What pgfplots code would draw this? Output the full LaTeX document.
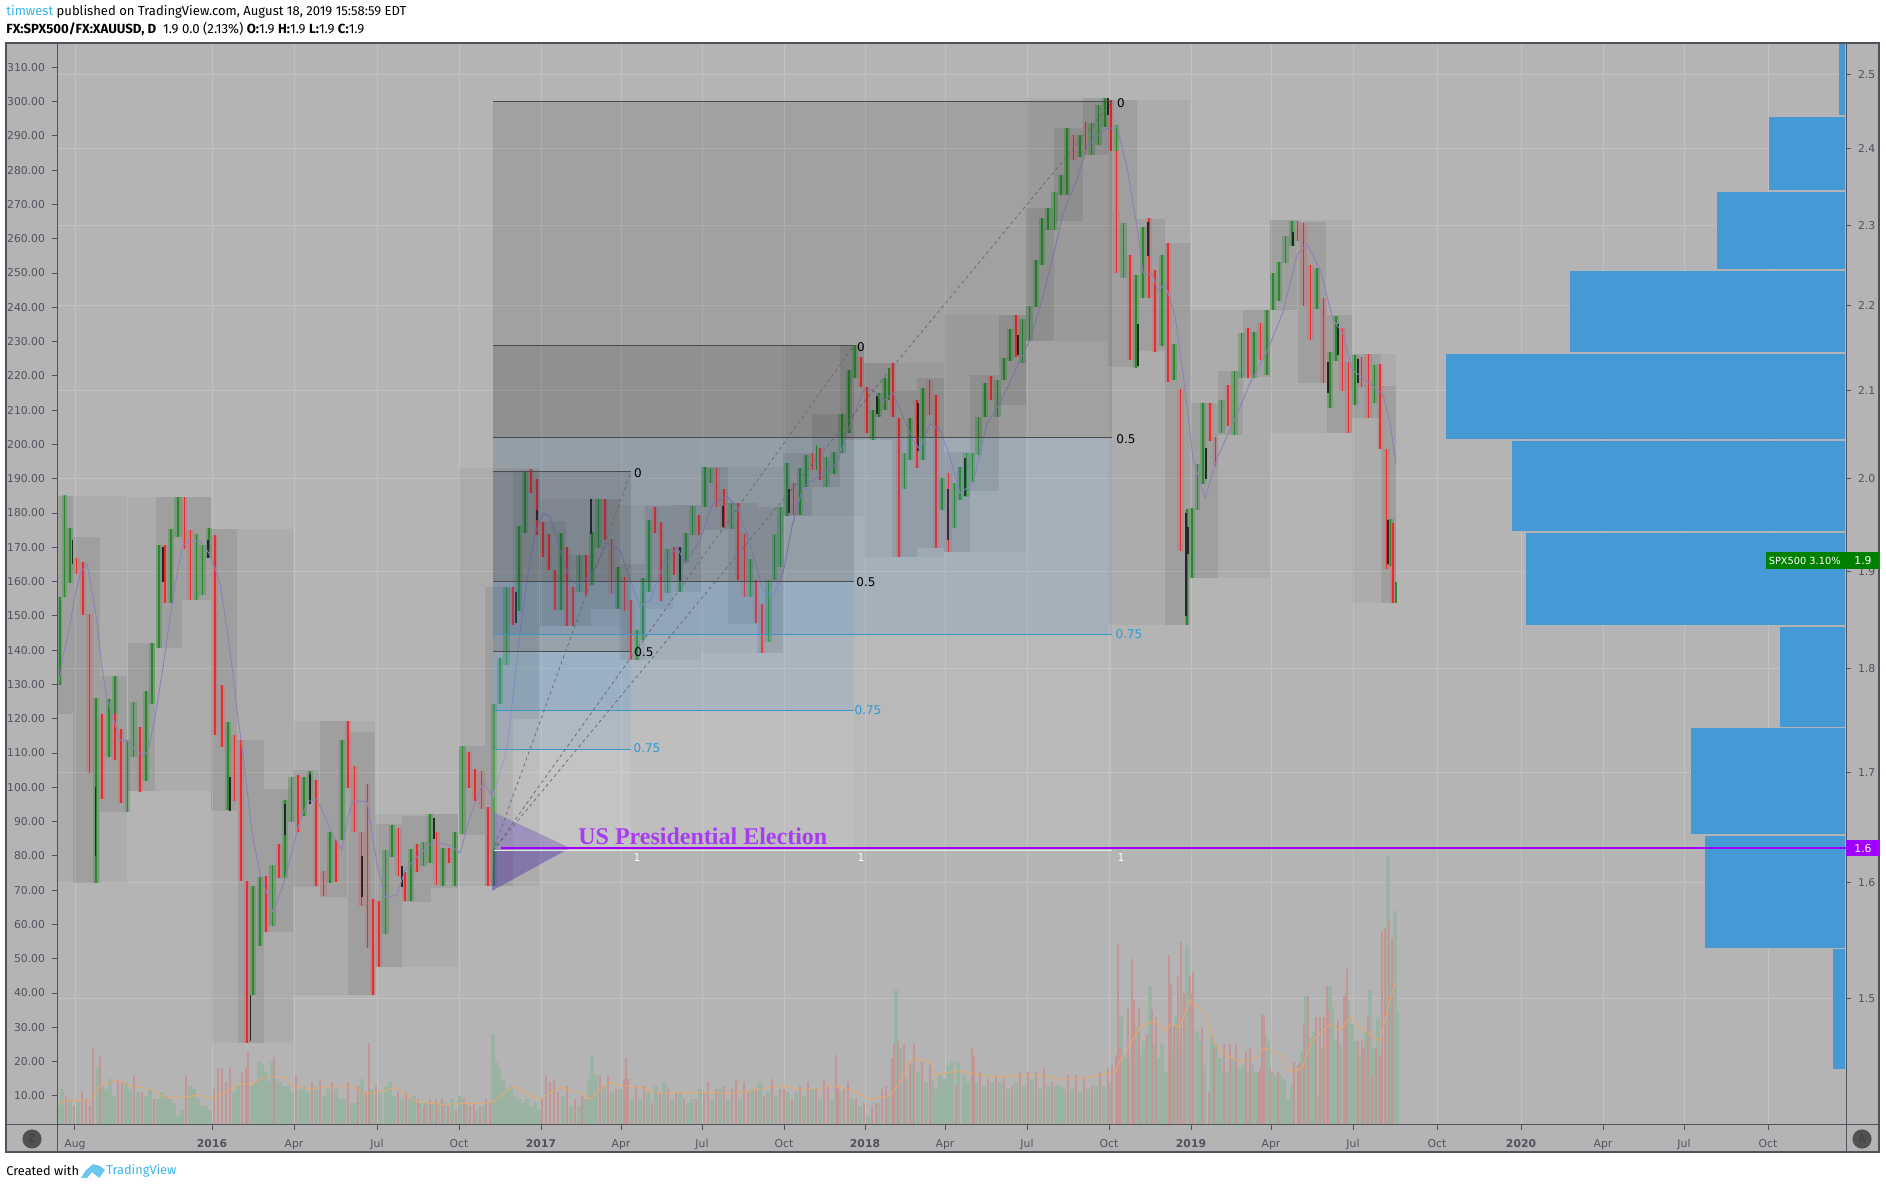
\documentclass[border=0pt]{standalone}
\usepackage{pgfplots}
\pgfplotsset{compat=1.18}
\usepackage{fontspec}
\setmainfont{DejaVu Sans}
\newfontfamily\hdr{Fira Sans}
\newfontfamily\ser{Liberation Serif}
\newcommand\ticks{\fontsize{5.4}{6.5}\selectfont}
\newcommand\lev{\fontsize{6}{7}\selectfont}
\newcommand\tagf{\fontsize{4.9}{6}\selectfont}
\definecolor{bgc}{HTML}{B4B4B4}
\definecolor{gridc}{HTML}{C1C1C1}
\definecolor{framec}{HTML}{50535E}
\definecolor{tickc}{HTML}{50535E}
\definecolor{tg}{HTML}{1E8E28}
\definecolor{tr}{HTML}{E04040}
\definecolor{sg}{HTML}{2A8A2A}
\definecolor{sr}{HTML}{EE2A2A}
\definecolor{fibblue}{HTML}{3C96E6}
\definecolor{fibtxt}{HTML}{2A9AD8}
\definecolor{prof}{HTML}{4299D7}
\definecolor{mac}{HTML}{9080B8}
\definecolor{volma}{HTML}{E6A86F}
\definecolor{volr}{HTML}{C49595}
\definecolor{volg}{HTML}{9BB3A3}
\definecolor{pur}{HTML}{A000FF}
\definecolor{tv}{HTML}{37B4EA}
\definecolor{elect}{HTML}{A83CF0}
\definecolor{tri}{HTML}{5A3CA8}
\newcommand{\Qb}[4]{\addplot[fill=black,fill opacity=.045,draw=none] coordinates {(#1,#3)(#2,#3)(#2,#4)(#1,#4)};}
\newcommand{\Mb}[4]{\addplot[fill=black,fill opacity=.07,draw=none] coordinates {(#1,#3)(#2,#3)(#2,#4)(#1,#4)};}
\newcommand{\Wg}[4]{\addplot[fill=tg,fill opacity=.3,draw=none] coordinates {(#1,#3)(#2,#3)(#2,#4)(#1,#4)};%
 \pgfmathsetmacro\cc{(#1+#2)/2}\addplot[sg,line width=.6pt] coordinates {(\cc,#3)(\cc,#4)};}
\newcommand{\Wr}[4]{\addplot[fill=tr,fill opacity=.2,draw=none] coordinates {(#1,#3)(#2,#3)(#2,#4)(#1,#4)};%
 \pgfmathsetmacro\cc{(#1+#2)/2}\addplot[sr,line width=.6pt] coordinates {(\cc,#3)(\cc,#4)};}
\newcommand{\Kb}[3]{\addplot[black!85,line width=.6pt] coordinates {(#1,#2)(#1,#3)};}
\newcommand{\Fb}[6]{\addplot[fill=#5,fill opacity=#6,draw=none] coordinates {(#1,#3)(#2,#3)(#2,#4)(#1,#4)};}
\newcommand{\Pf}[3]{\addplot[fill=prof,fill opacity=.97,draw=none] coordinates {(#1,#2)(1845,#2)(1845,#3)(#1,#3)};}
\begin{document}
\begin{tikzpicture}
\path[use as bounding box] (-28.5pt,-32pt) rectangle (914.5pt,562.5pt);
\fill[white] (-28.5pt,-32pt) rectangle (914.5pt,562.5pt);
\fill[bgc] (-25.5pt,-13.5pt) rectangle (911pt,541pt);
% right-hand logarithmic scale with the grid
\begin{axis}[at={(0,0)},anchor=south west,scale only axis,width=894.5pt,height=541pt,
 xmin=57,xmax=1846,ymode=log,ymin=1.399,ymax=2.544,
 xtick={75,212,294,377,459,541,621,702,784,865,945,1027,1109,1191,1271,1353,1437,1521,1603,1684,1768},
 xticklabels={},major x tick style={draw=none},
 ytick={1.5,1.6,1.7,1.8,1.9,2.0,2.1,2.2,2.3,2.4,2.5},
 yticklabels={1.5,1.6,1.7,1.8,1.9,2.0,2.1,2.2,2.3,2.4,2.5},
 yminorticks=false,xminorticks=false,
 ytick pos=right,tick align=outside,major tick length=2.5pt,
 tick style={tickc,line width=.5pt},
 tick label style={font=\ticks,color=tickc},
 xmajorgrids,ymajorgrids,grid style={gridc,line width=.5pt},
 axis line style={draw=none}]
\addplot[draw=none] coordinates {(60,2)};
\end{axis}
% left-hand scale with everything in it
\begin{axis}[at={(0,0)},anchor=south west,scale only axis,width=894.5pt,height=541pt,
 xmin=57,xmax=1846,ymin=1.5,ymax=317.1,
 xtick={75,212,294,377,459,541,621,702,784,865,945,1027,1109,1191,1271,1353,1437,1521,1603,1684,1768},
 xticklabels={Aug,\textbf{2016},Apr,Jul,Oct,\textbf{2017},Apr,Jul,Oct,\textbf{2018},Apr,Jul,Oct,\textbf{2019},Apr,Jul,Oct,\textbf{2020},Apr,Jul,Oct},
 ytick={10,20,...,310},
 yticklabel style={/pgf/number format/.cd,fixed,fixed zerofill,precision=2,assume math mode=true,1000 sep={}},
 xtick pos=bottom,ytick pos=left,tick align=outside,major tick length=2.5pt,
 tick style={tickc,line width=.5pt},
 tick label style={font=\ticks,color=tickc},
 xticklabel style={yshift=-1.2pt},
 axis line style={draw=none}]
% quarterly and monthly ranges
\Qb{58}{127}{185}{72}\Mb{58}{73}{185}{121.3}\Mb{73}{100}{173}{72}\Mb{100}{127}{132.5}{92.7}
\Qb{128}{211}{184.7}{98.9}\Mb{128}{155}{142}{98.9}\Mb{156}{182}{184.7}{140.5}\Mb{182}{211}{184.7}{154.6}
\Qb{211}{293}{175.3}{25.5}\Mb{211}{237}{175.3}{93}\Mb{238}{264}{113.7}{25.5}\Mb{264}{293}{99.4}{57.9}
\Qb{293}{375}{119.3}{39.3}\Mb{293}{319}{105}{71}\Mb{320}{347}{119.3}{68.1}\Mb{348}{375}{116}{39.3}
\Qb{375}{458}{92.2}{47.5}\Mb{376}{402}{89.3}{47.5}\Mb{402}{431}{91.6}{66.4}\Mb{431}{458}{92.2}{70.7}
\Qb{459}{539}{193}{71.3}\Mb{459}{485}{112}{86}\Mb{485}{513}{158.4}{71.3}\Mb{513}{539}{192.6}{120}
\Qb{540}{620}{184}{147}\Mb{540}{566}{177.8}{147}\Mb{566}{591}{167.7}{147}\Mb{591}{620}{184}{151.9}
\Qb{620}{701}{182.3}{137.1}\Mb{620}{645}{165}{137.1}\Mb{645}{673}{182}{152}\Mb{673}{701}{182.3}{157}
\Qb{701}{783}{193.5}{139.3}\Mb{701}{728}{193.5}{175}\Mb{728}{757}{182.8}{147.6}\Mb{757}{783}{181.8}{139.3}
\Qb{783}{864}{229}{179.1}\Mb{783}{812}{197.4}{179.1}\Mb{812}{840}{208.9}{187.7}\Mb{840}{864}{229}{201.3}
\Qb{864}{944}{223.7}{167.3}\Mb{864}{892}{223.7}{201.3}\Mb{892}{917}{215.9}{167.3}\Mb{917}{944}{219.3}{169.7}
\Qb{944}{1026}{237.8}{168.7}\Mb{944}{970}{197.9}{168.7}\Mb{970}{999}{220.3}{186.5}\Mb{999}{1026}{237.8}{211.5}
\Qb{1026}{1108}{301}{230.3}\Mb{1026}{1054}{268.9}{230.3}\Mb{1054}{1083}{292.2}{265.3}\Mb{1083}{1108}{301}{284.4}
\Qb{1108}{1190}{300.6}{147.4}\Mb{1108}{1137}{300.6}{222.5}\Mb{1137}{1165}{265.7}{227.2}\Mb{1165}{1190}{258.9}{147.4}
\Qb{1190}{1270}{239.1}{161}\Mb{1191}{1218}{212}{161}\Mb{1218}{1243}{221.4}{202.7}\Mb{1243}{1270}{239.1}{219.6}
\Qb{1270}{1352}{265.5}{203.2}\Mb{1270}{1297}{265.5}{239.1}\Mb{1298}{1326}{264.9}{217.8}\Mb{1327}{1352}{237.8}{203.2}
\Qb{1352}{1396}{226.3}{153.9}\Mb{1352}{1381}{226.3}{207.6}\Mb{1381}{1396}{217}{153.9}
% weekly bodies with their daily strokes, 2015-2016
\Wg{58}{62}{155.6}{129.9}\Wg{62}{67}{185.2}{155.6}\Wg{67}{73}{175.7}{159.7}\Wr{73}{80}{166.8}{162.3}
\Wr{80}{86}{165.6}{150.3}\Wr{86}{93}{150.6}{104.2}\Wg{93}{99}{126}{72}\Wr{99}{105}{121.5}{96.6}
\Wg{106}{112}{125.7}{108.7}\Wg{112}{118}{132.5}{121.5}\Wr{112}{118}{121.5}{108}\Wr{118}{124}{117}{95.5}
\Wg{125}{130}{113.9}{92.7}\Wg{130}{137}{124.9}{108.7}\Wr{137}{143}{117.6}{98.6}\Wg{143}{149}{128.2}{101.7}
\Wg{149}{155}{142}{124.3}\Wg{156}{162}{170.7}{140.5}\Wr{162}{168}{170.7}{153.7}\Wg{168}{174}{175.3}{153.9}
\Wg{174}{182}{184.6}{172.9}\Wr{182}{187}{184.6}{169.5}\Wr{187}{194}{175.1}{154.7}\Wg{194}{199}{174}{154.7}
\Wg{199}{206}{170.7}{156.1}\Wg{206}{212}{175.7}{166.8}\Wr{212}{218}{173.5}{115.4}\Wr{219}{225}{129.9}{111.8}
\Wg{225}{231}{119}{93.4}\Wr{231}{238}{115.4}{95.9}\Wr{238}{244}{113.7}{72.6}\Wr{244}{250}{72.7}{25.5}
\Wg{250}{256}{71.3}{39.5}\Wg{257}{263}{73.7}{53.6}\Wr{263}{269}{74.1}{57.9}\Wg{269}{276}{77.2}{59.6}
\Wr{276}{282}{83.6}{73.5}\Wg{282}{288}{96.4}{73.5}\Wg{288}{295}{102.9}{89.9}\Wr{295}{301}{103.7}{86.9}
\Wg{301}{307}{103.1}{91.7}\Wg{307}{313}{104.8}{96.4}\Wr{313}{319}{102}{71.1}\Wr{320}{327}{75.5}{68.2}
\Wg{327}{333}{86.9}{72.1}\Wr{333}{339}{84.7}{72.4}\Wg{339}{345}{113.7}{84.7}\Wr{345}{351}{119.3}{99.8}
\Wr{351}{358}{106.1}{86.9}\Wr{358}{365}{86.9}{65.5}\Wr{365}{370}{100.9}{53.2}\Wr{370}{376}{67.4}{39.5}
\Wr{376}{382}{66.8}{47.5}\Wg{382}{389}{81.6}{57.3}\Wg{389}{395}{89.1}{79.7}\Wr{395}{402}{88}{74.1}
\Wr{402}{408}{75.2}{66.8}\Wg{408}{414}{81.9}{66.8}\Wr{414}{420}{83.6}{75.2}\Wg{420}{427}{84.1}{76.9}
\Wg{427}{433}{92.2}{78}\Wr{433}{440}{86.9}{71.6}\Wg{440}{446}{82.4}{71.3}\Wr{446}{452}{82.4}{78}
\Wg{452}{458}{86.9}{71.3}\Wg{459}{466}{112}{86.4}\Wr{466}{472}{110.4}{99.8}\Wr{472}{478}{105.3}{95.9}
\Wr{478}{485}{104.8}{93.6}\Wr{485}{491}{94.2}{71.3}\Wg{491}{497}{124.3}{71.3}\Wg{497}{503}{137.7}{124.3}
% 2017
\Wg{503}{510}{158.5}{135.7}\Wr{510}{516}{158.5}{147.3}\Wg{516}{522}{176.2}{151.5}\Wg{522}{528}{192}{174.3}
\Wr{528}{534}{192.7}{185.7}\Wr{534}{540}{190}{173.6}\Wr{540}{546}{177.5}{167.3}\Wr{546}{552}{174}{163.4}
\Wr{552}{558}{163.4}{151.7}\Wg{558}{564}{174.1}{151.7}\Wr{564}{570}{170.2}{147}\Wr{570}{576}{158.5}{147}
\Wg{576}{583}{167.7}{157}\Wr{583}{589}{167.7}{156}\Wg{589}{595}{174.6}{159}\Wg{595}{602}{184.1}{169.7}
\Wr{602}{608}{184.1}{172.1}\Wr{608}{615}{172.3}{156.4}\Wg{615}{621}{164.3}{151.9}\Wr{621}{628}{161.4}{151.5}
\Wr{628}{634}{154.6}{137.1}\Wg{634}{640}{145.9}{137.1}\Wg{640}{646}{161}{143}\Wg{646}{652}{178}{157}
\Wr{652}{658}{181.9}{174.1}\Wr{658}{664}{177.5}{154.3}\Wg{664}{671}{169.5}{156.6}\Wr{671}{677}{170.2}{161.9}
\Wg{677}{683}{170.2}{157}\Wg{683}{689}{174.1}{165.3}\Wg{689}{696}{182}{173.6}\Wr{696}{702}{179.4}{173.6}
\Wg{702}{708}{193.5}{181.9}\Wg{708}{713}{193}{188.7}\Wr{713}{720}{193}{181.9}\Wr{720}{728}{187}{175.5}
\Wg{728}{735}{182.8}{175.2}\Wr{735}{741}{182.8}{160.5}\Wr{741}{748}{174}{155.6}\Wg{748}{753}{166.5}{155.6}
\Wr{753}{759}{160.5}{147.8}\Wr{759}{765}{153.6}{139.1}\Wg{765}{772}{160.5}{142.5}\Wg{772}{777}{173.8}{160.5}
\Wg{777}{784}{181.9}{164.4}\Wg{784}{790}{194.5}{179.1}\Wr{790}{797}{188.7}{179.4}\Wg{797}{803}{193}{179.4}
\Wg{803}{809}{197}{187.7}\Wr{809}{816}{197.4}{192.5}\Wg{816}{817}{199.8}{192.5}\Wr{817}{823}{198.9}{189.6}
\Wg{823}{830}{196.4}{187.7}\Wg{830}{838}{197.9}{191.4}\Wg{838}{846}{209}{197.4}
\Wg{846}{852}{221.7}{203.3}\Wg{852}{858}{229}{219.3}\Wr{858}{864}{225.6}{216.9}
% 2018
\Wr{864}{870}{216.9}{203.3}\Wg{870}{876}{210}{201.3}
\Wg{876}{882}{215}{208}\Wg{882}{888}{219.3}{210}\Wg{888}{890}{222.2}{213}\Wr{890}{896}{223.7}{208}
\Wr{896}{902}{207.6}{167.3}\Wg{902}{907}{197.4}{187}\Wg{907}{913}{207.6}{195.5}\Wr{914}{920}{213}{193}
\Wg{920}{926}{216.4}{195.5}\Wr{926}{933}{218.8}{208.6}\Wr{933}{939}{214.4}{169.7}\Wg{939}{945}{190.1}{180.9}
\Wr{945}{952}{191.6}{168.7}\Wg{952}{957}{188.7}{175.5}\Wg{957}{963}{193.5}{183.8}\Wg{963}{970}{197.6}{184.8}
\Wg{970}{975}{197.6}{189}\Wg{975}{982}{207.9}{197}\Wg{982}{988}{218}{207.9}\Wr{988}{994}{220}{213}
\Wg{994}{1001}{218.8}{207.9}\Wg{1001}{1007}{225.1}{218.8}\Wg{1007}{1013}{233.6}{224.2}\Wr{1013}{1019}{237.8}{225.6}
\Wg{1019}{1026}{236.5}{223.9}\Wg{1026}{1033}{240.4}{230.3}\Wg{1033}{1039}{253.8}{240}
\Wg{1039}{1045}{266}{252.3}\Wg{1045}{1051}{268.9}{262.6}\Wg{1051}{1058}{273.7}{262.6}\Wg{1058}{1064}{278.6}{272.8}
\Wg{1064}{1070}{292.2}{272.8}\Wr{1070}{1077}{290.3}{283}\Wg{1077}{1083}{290.3}{283.9}\Wr{1083}{1088}{294.2}{284.7}
\Wg{1088}{1095}{293.7}{284.4}\Wg{1095}{1102}{299}{287.4}\Wg{1102}{1108}{301}{292.7}\Wr{1108}{1114}{300.5}{285.7}
\Wg{1114}{1119}{293.2}{285.7}\Wr{1114}{1119}{285.7}{267.9}\Wr{1113}{1120}{267.9}{250.1}
\Wg{1120}{1127}{264.5}{248.5}\Wr{1127}{1133}{255.3}{224.6}\Wg{1133}{1139}{249.4}{222.2}\Wg{1140}{1146}{263.5}{242.6}
\Wr{1146}{1152}{266}{242.6}\Wr{1152}{1158}{250.9}{227.1}\Wg{1159}{1165}{255.3}{228.7}\Wr{1165}{1171}{258.9}{218.3}
\Wg{1171}{1177}{229.2}{218.8}\Wr{1177}{1184}{216.2}{168.8}\Wg{1185}{1189}{181.3}{147.4}\Wg{1189}{1195}{181.6}{161}
% 2019
\Wg{1195}{1200}{194.3}{180.8}\Wg{1200}{1206}{212}{188.6}\Wr{1207}{1213}{212}{201.1}\Wr{1213}{1218}{202.1}{193.8}
\Wg{1218}{1225}{213.1}{203.2}\Wr{1225}{1231}{217.2}{205.3}\Wg{1231}{1238}{221.4}{202.7}\Wg{1238}{1245}{232.6}{219.3}
\Wr{1245}{1251}{233.9}{219.3}\Wg{1251}{1257}{232.8}{219.3}\Wr{1257}{1264}{235.5}{224.5}\Wg{1264}{1270}{239.1}{220.3}
\Wg{1270}{1276}{250}{239.1}\Wg{1276}{1282}{253.2}{241.7}\Wg{1282}{1289}{260.7}{253}\Wg{1289}{1295}{265.2}{257.9}
\Wr{1295}{1300}{265.2}{259.4}\Wr{1300}{1307}{264.6}{240.5}\Wr{1307}{1314}{252.3}{230.6}\Wg{1314}{1320}{251.6}{239.6}
\Wr{1320}{1327}{242.8}{217.8}\Wg{1327}{1333}{226.9}{210.5}\Wg{1333}{1339}{237.6}{224.2}\Wr{1339}{1346}{233.9}{215.7}
\Wr{1345}{1352}{224}{203.2}\Wg{1352}{1358}{226.1}{211.5}\Wr{1358}{1365}{225.6}{216.7}\Wr{1365}{1372}{226.3}{207.6}
\Wg{1372}{1377}{223.3}{212}\Wr{1377}{1383}{223.5}{198.8}\Wr{1383}{1390}{198.8}{163.8}\Wg{1387}{1394}{178.4}{164.6}
\Wr{1390}{1396}{177.1}{153.9}\Wg{1395}{1397}{160}{153.9}
% dark candles
\Kb{95.5}{100}{80}\Kb{250.5}{39.5}{26}\Kb{72.5}{172}{165}\Kb{163}{170}{160}\Kb{208}{172}{167}\Kb{230}{103}{93}
\Kb{285}{95}{86}\Kb{310}{104}{95}\Kb{362}{80}{68}\Kb{402}{77}{71}\Kb{434}{91}{85}\Kb{516}{157}{148}\Kb{537}{181}{178}
\Kb{591}{184}{174}\Kb{680}{170}{160}\Kb{723}{182}{176}\Kb{789}{187}{180}\Kb{877}{214}{209}\Kb{918}{212}{198}\Kb{948}{187}{172}
\Kb{965}{196}{185}\Kb{1018}{232}{226}\Kb{1108}{301}{296}\Kb{1138}{223}{235}\Kb{1148}{265}{255}\Kb{1186}{180}{150}\Kb{1188}{176}{168}
\Kb{1206}{190}{199}\Kb{1293}{262}{258}\Kb{1328}{224}{215}\Kb{1338}{235}{226}\Kb{1358}{225}{218}\Kb{1388}{178}{165}
% moving average
\addplot[mac,line width=.45pt] coordinates {(59,130.5)(63,138.3)(70,147.2)(75,156.1)(81,162.8)(87,165.1)(90,160.6)(97,148.3)(102,134.9)(107,126)(113,120.4)(120,113.7)(127,113.7)(133,111.5)(143,109.3)(148,110.4)(155,120.4)(163,134.9)(170,149.4)(178,164)(183,170.7)(190,171.8)(200,171.8)(210,167.9)(220,159.5)(227,146.1)(233,132.7)(238,120.4)(245,104.8)(252,86.9)(260,74.6)(267,69)(273,63.5)(283,71.3)(293,82.5)(300,90.3)(308,95.9)(317,96.4)(325,91.4)(333,85.8)(342,81.9)(348,91.4)(353,95.9)(367,95.9)(377,78)(385,67.9)(397,68.5)(405,75.8)(417,79.7)(433,84.1)(450,83)(460,80.8)(470,91.4)(483,101.4)(493,97)(507,111.5)(513,126.4)(520,145)(528,162.4)(535,174)(543,179.9)(550,179)(560,169.2)(570,160.5)(578,159)(593,162.4)(607,171.2)(620,169.2)(630,160.5)(640,152.7)(650,154.6)(663,164.4)(677,170.2)(685,165.3)(700,172.1)(713,182.8)(727,184.8)(737,181.9)(750,171.2)(763,157.5)(773,155.6)(783,162.4)(792,176)(803,187.7)(823,191.6)(837,194.5)(847,203.2)(853,208)(864,215.9)(873,216)(883,212.5)(893,215)(903,208.1)(913,201.3)(920,198.4)(930,206.2)(940,204.2)(950,196.4)(960,185.8)(973,188.7)(987,206.2)(1000,212)(1017,222.7)(1030,230.5)(1043,243.1)(1057,259.6)(1063,267.4)(1077,277.2)(1087,286.9)(1103,291.7)(1117,292.7)(1127,281)(1137,263.5)(1143,250)(1153,249.4)(1158,244.6)(1165,247)(1175,237.6)(1183,220.9)(1193,195.9)(1205,184.4)(1217,195.9)(1233,206.3)(1250,217.8)(1267,227.1)(1283,238.6)(1297,255.3)(1307,258.4)(1320,251.1)(1333,236.5)(1343,232.3)(1352,221.9)(1370,217.8)(1383,214.6)(1390,206.3)(1396,194.3)};
% election triangle
\addplot[fill=tri,fill opacity=.48,draw=none] coordinates {(492,69.8)(494,92.7)(570,82.3)};
% Fibonacci ranges
\Fb{493}{1112}{300}{202}{black}{.1}\Fb{493}{1112}{202}{144.5}{fibblue}{.12}\Fb{493}{1112}{144.5}{81.5}{white}{.08}
\Fb{493}{854}{229}{160}{black}{.1}\Fb{493}{854}{160}{122.5}{fibblue}{.12}\Fb{493}{854}{122.5}{81.5}{white}{.08}
\Fb{493}{631}{192}{139.5}{black}{.1}\Fb{493}{631}{139.5}{111}{fibblue}{.12}\Fb{493}{631}{111}{81.5}{white}{.08}
\addplot[black!70,line width=.5pt] coordinates {(493,300)(1112,300)};
\addplot[black!70,line width=.5pt] coordinates {(493,202)(1112,202)};
\addplot[black!70,line width=.5pt] coordinates {(493,229)(854,229)};
\addplot[black!70,line width=.5pt] coordinates {(493,160)(854,160)};
\addplot[black!70,line width=.5pt] coordinates {(493,192)(631,192)};
\addplot[black!70,line width=.5pt] coordinates {(493,139.5)(631,139.5)};
\addplot[fibtxt!80!gray,line width=.5pt] coordinates {(493,144.5)(1112,144.5)};
\addplot[fibtxt!80!gray,line width=.5pt] coordinates {(493,122.5)(854,122.5)};
\addplot[fibtxt!80!gray,line width=.5pt] coordinates {(493,111)(631,111)};
\addplot[white!80!gray,line width=.5pt] coordinates {(493,81.5)(1112,81.5)};
\addplot[black!60,line width=.35pt,dash pattern=on 1.6pt off 1.6pt] coordinates {(493,81.5)(631,192)};
\addplot[black!60,line width=.35pt,dash pattern=on 1.6pt off 1.6pt] coordinates {(493,81.5)(854,229)};
\addplot[black!60,line width=.35pt,dash pattern=on 1.6pt off 1.6pt] coordinates {(493,81.5)(1112,300)};
% volume
\addplot[ycomb,volg,line width=1.7pt] coordinates {(58,7)(62,12)(70,9)(78,8)(98,18)(102,13)(106,12)(110,15)(114,10)(126,14)(130,12)(138,11)(146,10)(150,12)(158,9)(162,11)(166,10)(170,9)(174,8)(178,4)(182,6)(190,13)(194,12)(198,9)(202,7)(206,7)(210,6)(234,11)(238,13)(252,13)(256,14)(259,20)(262,19)(266,17)(270,14)(272,20)(276,15)(280,14)(284,13)(288,13)(292,11)(300,12)(304,13)(308,11)(316,13)(324,10)(328,12)(336,12)(340,9)(344,9)(352,8)(356,8)(362,15)(372,12)(380,11)(386,13)(390,14)(394,10)(402,9)(410,9)(414,10)(420,8)(426,8)(432,8)(438,8)(444,8)(452,9)(460,10)(466,8)(476,6)(484,7)(493,28)(496,20)(499,18)(503,15)(507,12)(511,13)(515,10)(519,9)(523,8)(527,9)(531,7)(535,8)(539,6)(563,10)(571,7)(579,7)(585,9)(589,15)(592,22)(596,16)(604,13)(612,11)(620,12)(632,9)(640,9)(648,11)(656,13)(664,14)(672,9)(680,11)(688,8)(692,9)(700,12)(712,9)(720,12)(728,9)(740,9)(752,12)(760,14)(768,11)(776,10)(788,11)(796,11)(804,10)(812,12)(820,9)(832,9)(840,11)(852,9)(860,7)(868,4)(878,8)(888,10)(896,41)(900,24)(906,15)(912,19)(918,17)(926,14)(932,15)(936,12)(940,16)(944,15)(948,19)(952,20)(958,20)(964,16)(968,14)(976,14)(984,13)(992,14)(1000,14)(1008,12)(1016,14)(1024,13)(1032,15)(1040,12)(1048,13)(1056,13)(1060,13)(1064,12)(1072,12)(1080,11)(1088,12)(1096,13)(1104,13)(1110,14)(1121,33)(1124,22)(1128,21)(1136,30)(1140,22)(1144,26)(1150,42)(1154,25)(1158,21)(1162,25)(1166,17)(1172,23)(1176,33)(1179,26)(1187,54)(1190,40)(1197,29)(1200,26)(1204,19)(1212,28)(1216,25)(1220,21)(1224,17)(1228,17)(1232,21)(1236,19)(1240,18)(1244,19)(1248,17)(1252,19)(1256,17)(1265,28)(1268,26)(1272,17)(1276,16)(1280,16)(1284,15)(1288,9)(1292,13)(1302,23)(1306,39)(1310,27)(1314,29)(1318,10)(1322,24)(1330,42)(1332,36)(1336,26)(1340,25)(1348,38)(1352,31)(1356,26)(1360,22)(1366,29)(1370,41)(1374,24)(1378,33)(1388,80)(1391,43)(1395,64)(1397,35)};
\addplot[ycomb,volr,line width=1.05pt] coordinates {(66,10)(74,7)(82,11)(86,9)(90,7)(93,24)(100,21.5)(118,15)(122,14)(134,16)(142,11)(154,9)(186,16)(214,12)(218,18)(222,18)(226,14)(230,18)(242,17)(246,18)(248,23)(274,21)(296,16)(312,14)(320,15)(332,14)(348,14)(358,13)(366,11)(369,25.5)(376,13)(398,11)(406,11)(418,9)(424,7)(430,9)(436,9)(442,9)(448,7)(456,6)(464,9)(470,7)(474,8)(480,7)(486,9)(490,8)(542,9)(546,16)(550,14)(554,15)(558,11)(567,13)(575,9)(582,10)(600,16)(608,16)(616,12)(624,15)(626,21)(628,15)(636,13)(644,13)(652,8)(660,11)(668,12)(676,11)(684,9)(696,9)(704,11)(708,14)(716,12)(724,13)(732,12)(736,15)(744,14)(748,11)(756,12)(764,10)(772,15)(780,12)(784,12)(792,9)(800,13)(808,14)(816,12)(824,15)(828,13)(836,22)(838,13)(844,12)(848,14)(856,9)(864,8)(872,7)(876,8)(882,12)(886,13)(892,21)(894,25)(898,26)(904,25)(910,20)(914,25)(922,20)(930,19)(956,13)(972,24)(974,22)(980,17)(988,15)(996,16)(1004,15)(1012,13)(1020,17)(1028,17)(1036,17)(1044,18)(1052,14)(1068,16)(1076,16)(1084,15)(1092,13)(1100,17)(1108,18)(1112,19)(1116,22)(1118,54)(1120,24)(1128,36)(1132,50)(1134,38)(1139,36)(1147,28)(1152,35)(1156,33)(1169,51)(1171,43)(1174,30)(1178,45)(1181,55)(1184,40)(1190,45)(1193,46)(1202,30)(1209,11)(1214,24)(1224,25)(1230,25)(1236,25)(1246,23)(1250,24)(1258,17)(1260,18)(1262,34)(1264,33)(1270,18)(1278,17)(1294,20)(1298,19)(1300,20)(1304,31)(1308,39)(1316,33)(1320,33)(1324,33)(1327,42)(1328,35)(1338,32)(1344,39)(1346,40)(1347,47)(1358,26)(1362,26)(1364,24)(1368,33)(1372,16)(1376,24)(1380,22)(1382,58)(1385,59)(1389,61)(1392,56)};
\addplot[volma,line width=.45pt] coordinates {(58,7.5)(65,8.5)(80,8.7)(90,8.5)(100,13)(110,14)(118,14.5)(130,13)(150,12)(165,9.5)(180,9.5)(200,10.3)(213,9)(225,11)(240,13.5)(250,13.5)(265,15.5)(285,15.5)(292,13)(310,12)(330,12.8)(350,12.8)(365,10.5)(385,11.5)(395,12.5)(415,8.5)(440,7.5)(470,7.8)(492,8)(505,11)(515,13)(530,10)(540,9)(560,12.5)(580,11)(590,9)(600,12)(610,14)(622,13)(640,12.5)(660,10.7)(680,11)(710,11)(730,10.7)(760,12)(780,13)(800,12)(820,12)(830,13)(850,12)(870,9)(890,10)(900,14)(910,20)(916,21)(930,20)(935,16)(950,17)(965,17)(980,16)(1000,15.5)(1020,16)(1040,16)(1060,15)(1080,15)(1100,16)(1116,17)(1118,19)(1130,25)(1140,30)(1155,32)(1165,29)(1172,31)(1180,30)(1190,38)(1205,34)(1215,25)(1225,22)(1240,20)(1255,21)(1265,24)(1280,22)(1290,17)(1302,18)(1312,26)(1330,31)(1340,29)(1350,33)(1360,30)(1375,27)(1380,26)(1390,38)(1395,43)};
% volume profile
\Pf{1839}{317.1}{296.1}\Pf{1769}{295.5}{274.2}\Pf{1717}{273.6}{251.2}\Pf{1570}{250.6}{227}\Pf{1446}{226.4}{201.6}
\Pf{1512}{201}{174.7}\Pf{1526}{174.3}{147.2}\Pf{1780}{146.8}{117.6}\Pf{1691}{117.3}{86.4}\Pf{1705}{85.8}{53.1}\Pf{1833}{52.8}{17.8}
% price lines
\addplot[pur,line width=.9pt] coordinates {(501,82.2)(1846,82.2)};
% level labels
\node[font=\lev,black] at (axis cs:1121,299.6) {0};
\node[font=\lev,black] at (axis cs:1126,201.6) {0.5};
\node[font=\lev,black] at (axis cs:861,228.5) {0};
\node[font=\lev,black] at (axis cs:866,159.9) {0.5};
\node[font=\lev,black] at (axis cs:638,191.6) {0};
\node[font=\lev,black] at (axis cs:644,139.5) {0.5};
\node[font=\lev,color=fibtxt] at (axis cs:1129,144.7) {0.75};
\node[font=\lev,color=fibtxt] at (axis cs:868,122.6) {0.75};
\node[font=\lev,color=fibtxt] at (axis cs:647,111.5) {0.75};
\node[font=\ticks,white] at (axis cs:637,79.5) {1};
\node[font=\ticks,white] at (axis cs:861,79.5) {1};
\node[font=\ticks,white] at (axis cs:1121,79.5) {1};
\node[anchor=west,inner sep=0pt,text=elect] at (axis cs:578,85.6) {\ser\bfseries\fontsize{12}{14}\selectfont US Presidential Election};
\end{axis}
% frame and scale furniture
\draw[framec,line width=.6pt] (-25.5pt,-13.5pt) rectangle (911pt,541pt);
\draw[framec,line width=.5pt] (0,-13.5pt) -- (0,541pt);
\draw[framec,line width=.5pt] (894.5pt,-13.5pt) -- (894.5pt,541pt);
\draw[framec,line width=.5pt] (-25.5pt,0) -- (911pt,0);
\fill[black!55!bgc] (-12.5pt,-7pt) circle (4.8pt);
\fill[black!55!bgc] (902.5pt,-7pt) circle (4.8pt);
\node[font=\ticks,text=black!65!bgc] at (-12.5pt,-7pt) {Z};
\node[font=\ticks,text=black!65!bgc] at (902.5pt,-7pt) {A};
% price tags
\fill[green!50!black] (854.5pt,278pt) rectangle (911pt,286.5pt);
\node[font=\tagf,white,anchor=east,inner sep=0pt] at (892pt,282.2pt) {SPX500 3.10\%};
\node[font=\ticks,white] at (903pt,282.2pt) {1.9};
\fill[pur] (894.5pt,134.5pt) rectangle (911pt,142.3pt);
\node[font=\ticks,white] at (903pt,138.4pt) {1.6};
% header and footer
\node[anchor=west,inner sep=0pt] at (-25.5pt,556.5pt) {\hdr\fontsize{6.52}{8}\selectfont\textcolor{tv}{timwest} published on TradingView.com, August 18, 2019 15:58:59 EDT};
\node[anchor=west,inner sep=0pt] at (-25.5pt,547.7pt) {\hdr\fontsize{6.6}{8}\selectfont\textbf{FX:SPX500/FX:XAUUSD, D}\ \ 1.9 0.0 (2.13\%) \textbf{O:}1.9 \textbf{H:}1.9 \textbf{L:}1.9 \textbf{C:}1.9};
\node[anchor=west,inner sep=0pt] at (-25.5pt,-23pt) {\hdr\fontsize{6.4}{8}\selectfont Created with};
\fill[tv!75!white] (12pt,-26.5pt) -- (14.5pt,-22.5pt) -- (18pt,-19.6pt) -- (21.5pt,-20.5pt) -- (24pt,-22.5pt) -- (21pt,-26.5pt) -- (17.5pt,-23.5pt) -- (15pt,-26.5pt) -- cycle;
\node[anchor=west,inner sep=0pt] at (24.5pt,-23pt) {\hdr\fontsize{6.4}{8}\selectfont\textcolor{tv}{TradingView}};
\end{tikzpicture}
\end{document}
